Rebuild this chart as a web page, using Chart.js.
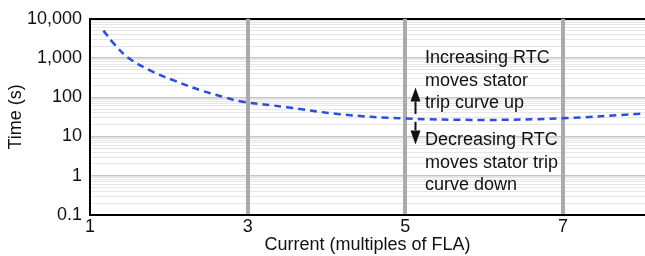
<!DOCTYPE html>
<html><head><meta charset="utf-8">
<script src="https://cdn.jsdelivr.net/npm/chart.js@4/dist/chart.umd.min.js"></script>
<style>html,body{margin:0;padding:0;background:#fff;overflow:hidden}#wrap{width:645px;height:256px}</style>
</head><body><div id="wrap"><canvas id="c" width="645" height="256"></canvas></div>
<script>
// Data
const currentX = [1.17, 1.30, 1.49, 1.78, 2.08, 2.42, 2.71, 2.92, 3.50, 4.17, 4.97, 6.00, 6.96, 7.98];
const tripTime = [5000, 2370, 1000, 465, 261, 147, 100, 78, 56, 37, 29, 26.5, 29, 38];
const xTickValues = [1, 3, 5, 7];
const yDecades = [0.1, 1, 10, 100, 1000, 10000];
const upText = ['Increasing RTC', 'moves stator', 'trip curve up'];
const downText = ['Decreasing RTC', 'moves stator trip', 'curve down'];
const arrowX = 5.12;
const upArrow = [37.6, 178];
const downArrow = [23.7, 6.3];
const textX = 5.25;
const upTextY = 1000;
const downTextY = 8;

const FONT = "'Liberation Sans', Arial, sans-serif";
const FS = 18;
const isDecade = v => Math.abs(Math.log10(v) - Math.round(Math.log10(v))) < 1e-9;

const annot = {
  id: 'annot',
  afterDatasetsDraw(chart) {
    const {ctx, scales: {x, y}} = chart;
    ctx.save();
    ctx.fillStyle = '#111';
    ctx.strokeStyle = '#111';
    ctx.lineWidth = 2;
    const drawArrow = (xv, fromV, toV) => {
      const px = Math.round(x.getPixelForValue(xv)) + 0.5;
      const y0 = y.getPixelForValue(fromV), y1 = y.getPixelForValue(toV);
      const dir = y1 < y0 ? -1 : 1;
      const hl = 14, hw = 5;
      ctx.beginPath(); ctx.moveTo(px, y0); ctx.lineTo(px, y1 - dir * hl); ctx.stroke();
      ctx.beginPath(); ctx.moveTo(px, y1); ctx.lineTo(px - hw, y1 - dir * hl); ctx.lineTo(px + hw, y1 - dir * hl); ctx.closePath(); ctx.fill();
    };
    drawArrow(arrowX, upArrow[0], upArrow[1]);
    drawArrow(arrowX, downArrow[0], downArrow[1]);
    ctx.font = FS + 'px ' + FONT;
    ctx.textBaseline = 'middle';
    ctx.textAlign = 'left';
    const tx = x.getPixelForValue(textX);
    const lh = 22.5;
    let ty = y.getPixelForValue(upTextY);
    upText.forEach((t, i) => ctx.fillText(t, tx, ty + i * lh));
    ty = y.getPixelForValue(downTextY);
    downText.forEach((t, i) => ctx.fillText(t, tx, ty + i * lh));
    ctx.restore();
  }
};

new Chart(document.getElementById('c'), {
  type: 'line',
  data: {
    datasets: [{
      data: currentX.map((xv, i) => ({x: xv, y: tripTime[i]})),
      borderColor: '#2a4fe0',
      borderWidth: 2.5,
      borderDash: [7, 5],
      pointRadius: 0,
      fill: false,
      tension: 0.4
    }]
  },
  options: {
    responsive: false,
    animation: false,
    devicePixelRatio: 1,
    layout: {padding: {top: 15, right: 0, left: 0, bottom: 0}},
    plugins: {legend: {display: false}, tooltip: {enabled: false}},
    scales: {
      x: {
        type: 'linear', min: 1, max: 8.04,
        afterBuildTicks: s => { s.ticks = xTickValues.map(v => ({value: v})); },
        ticks: {color: '#111', font: {family: FONT, size: FS}, padding: 1, maxRotation: 0, autoSkip: false, callback: v => String(v)},
        grid: {
          z: -1,
          color: c => (c.tick && c.tick.value === 1) ? 'rgba(0,0,0,0)' : '#ababab',
          lineWidth: 4, drawTicks: false
        },
        border: {color: '#000', width: 2},
        title: {display: true, text: 'Current (multiples of FLA)', color: '#111', font: {family: FONT, size: FS}, padding: {top: 0, bottom: 0}},
        afterFit: s => { s.height = 41; }
      },
      y: {
        type: 'logarithmic', min: 0.1, max: 10000,
        afterBuildTicks: s => {
          const t = [];
          for (let e = -1; e <= 3; e++) for (let m = 1; m <= 9; m++) t.push({value: Number((m * Math.pow(10, e)).toPrecision(6))});
          t.push({value: 10000});
          s.ticks = t;
        },
        ticks: {
          color: '#111', font: {family: FONT, size: FS}, padding: 8, autoSkip: false,
          callback: v => yDecades.some(d => Math.abs(d - v) < 1e-9) ? v.toLocaleString('en-US') : ''
        },
        grid: {
          z: -2,
          color: c => {
            const v = c.tick ? c.tick.value : 1;
            if (v === 10000) return '#000';
            return isDecade(v) ? '#c6c6c6' : '#e6e6e6';
          },
          lineWidth: c => {
            const v = c.tick ? c.tick.value : 1;
            if (v === 10000) return 2;
            return isDecade(v) ? 1.5 : 1;
          },
          drawTicks: false
        },
        border: {color: '#000', width: 2},
        title: {display: true, text: 'Time (s)', color: '#111', font: {family: FONT, size: FS}, padding: {top: 5, bottom: 0}},
        afterFit: s => { s.width = 90; }
      }
    }
  },
  plugins: [annot]
});
</script>
</body></html>
